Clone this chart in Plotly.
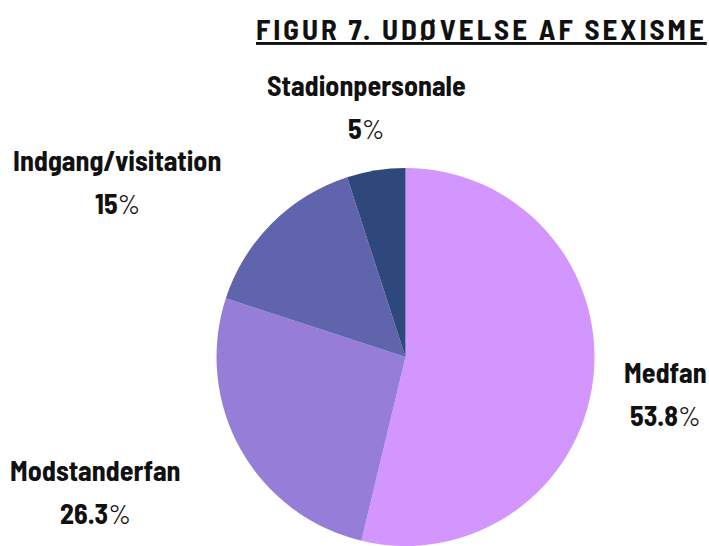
import plotly.graph_objects as go

categories = ["Medfan", "Modstanderfan", "Indgang/visitation", "Stadionpersonale"]
values = [53.8, 26.3, 15.0, 5.0]
value_labels = ["53.8%", "26.3%", "15%", "5%"]
colors = ["#D396FE", "#967DD7", "#5F64AD", "#2E487B"]
title_text = "FIGUR 7. UDØVELSE AF SEXISME"

W, H = 709, 546
FONT = "Barlow Semi Condensed, Roboto Condensed, Open Sans Condensed, DejaVu Sans Condensed, sans-serif"

# label placement (pixel centres of name line, percent line below)
label_pos = {
    "Medfan": (665, 372),
    "Modstanderfan": (95, 470),
    "Indgang/visitation": (117, 160),
    "Stadionpersonale": (366, 85),
}
line_gap = 43

cx, cy, r = 405.5, 357, 189

fig = go.Figure(go.Pie(
    labels=categories,
    values=values,
    marker=dict(colors=colors, line=dict(width=0)),
    sort=False,
    direction="clockwise",
    rotation=0,
    textinfo="none",
    hoverinfo="label+value",
    showlegend=False,
    domain=dict(x=[(cx - r) / W, (cx + r) / W], y=[(H - cy - r) / H, (H - cy + r) / H]),
))

annotations = []
for cat, vl in zip(categories, value_labels):
    px, py = label_pos[cat]
    annotations.append(dict(
        x=px / W, y=1 - py / H, xref="paper", yref="paper",
        text="<b>" + cat + "</b>", showarrow=False,
        xanchor="center", yanchor="middle",
        font=dict(family=FONT, size=28, color="#111111"),
    ))
    num = vl.rstrip("%")
    annotations.append(dict(
        x=px / W, y=1 - (py + line_gap) / H, xref="paper", yref="paper",
        text="<b>" + num + "</b>%", showarrow=False,
        xanchor="center", yanchor="middle",
        font=dict(family=FONT, size=28, color="#111111"),
    ))

annotations.append(dict(
    x=709 / W, y=1 - 28 / H, xref="paper", yref="paper",
    text="<u><b><span style='letter-spacing:3px'>" + title_text + "</span></b></u>",
    showarrow=False, xanchor="right", yanchor="middle",
    font=dict(family=FONT, size=29, color="#111111"),
))

fig.update_layout(
    width=W, height=H,
    margin=dict(l=0, r=0, t=0, b=0),
    paper_bgcolor="white", plot_bgcolor="white",
    annotations=annotations,
)

fig.write_html("out.html", config={"displayModeBar": False},
               post_script="document.body.style.margin='0';")
